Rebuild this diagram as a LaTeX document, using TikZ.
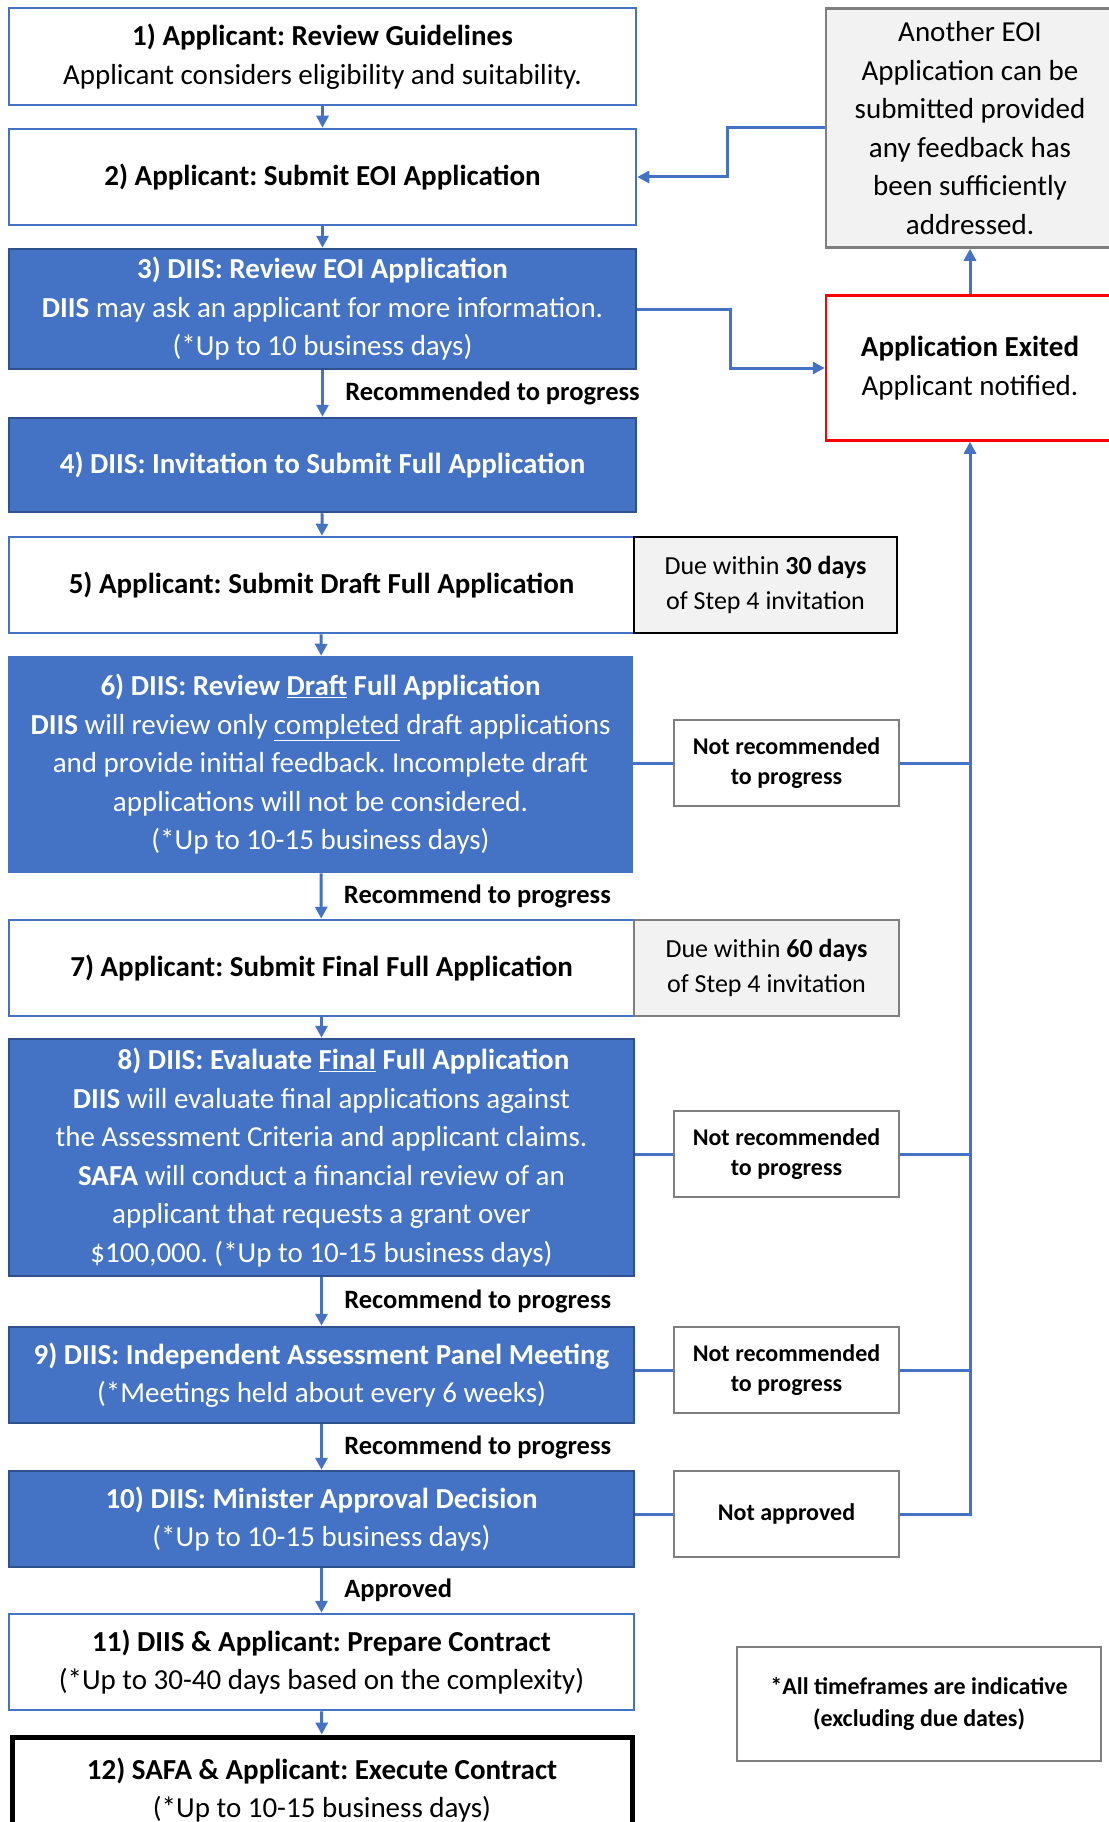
\documentclass[tikz,border=0pt]{standalone}
\usepackage{fontspec}
\setmainfont{Carlito}
\usetikzlibrary{arrows.meta}
\frenchspacing

\definecolor{stepblue}{HTML}{4472C4}
\definecolor{stepedge}{HTML}{2F528F}
\definecolor{notegray}{HTML}{F2F2F2}
\definecolor{edgegray}{HTML}{7F7F7F}
\definecolor{exitred}{HTML}{FF0000}

\tikzset{
  mainfont/.style={font=\fontsize{29}{38.5}\selectfont},
  smallfont/.style={font=\bfseries\fontsize{24}{30}\selectfont},
  applbox/.style={mainfont, draw=stepblue, line width=2.5pt, fill=white, align=center, inner sep=0pt},
  diisbox/.style={mainfont, draw=stepedge, line width=2.5pt, fill=stepblue, text=white, align=center, inner sep=0pt},
  duebox/.style={font=\fontsize{26}{35}\selectfont, draw=black, line width=2.5pt, fill=notegray, align=center, inner sep=0pt},
  nrbox/.style={smallfont, draw=edgegray, line width=2.5pt, fill=white, align=center, inner sep=0pt},
  flow/.style={draw=stepblue, line width=3pt},
  flowlabel/.style={font=\bfseries\fontsize{26.5}{30}\selectfont, anchor=west, xshift=18pt},
}

\begin{document}
\begin{tikzpicture}[x=1pt, y=-1pt, >={Triangle[length=12pt,width=12pt]}]
        \useasboundingbox (0,0) rectangle (1108,1822);

        % Main steps
        \node[applbox, minimum width=627, minimum height=97] (b1) at (322.5,56.5)
          {\textbf{1) Applicant: Review Guidelines}\\Applicant considers eligibility and suitability.};
        \node[applbox, minimum width=627, minimum height=96] (b2) at (322.5,177)
          {\textbf{2) Applicant: Submit EOI Application}};
        \node[diisbox, minimum width=627, minimum height=120] (b3) at (322.5,309)
          {\textbf{3) DIIS: Review EOI Application}\\\textbf{DIIS} may ask an applicant for more information.\\(*Up to 10 business days)};
        \node[diisbox, minimum width=627, minimum height=94] (b4) at (322.5,465)
          {\textbf{4) DIIS: Invitation to Submit Full Application}};
        \node[applbox, minimum width=625, minimum height=96] (b5) at (321.5,585)
          {\textbf{5) Applicant: Submit Draft Full Application}};
        \node[diisbox, draw=stepblue, minimum width=623, minimum height=215] (b6) at (320.5,764.5)
          {\textbf{6) DIIS: Review \underline{Draft} Full Application}\\\textbf{DIIS} will review only \underline{completed} draft applications\\and provide initial feedback. Incomplete draft\\applications will not be considered.\\(*Up to 10-15 business days)};
        \node[applbox, minimum width=625, minimum height=96] (b7) at (321.5,968)
          {\textbf{7) Applicant: Submit Final Full Application}};
        \node[diisbox, minimum width=625, minimum height=237] (b8) at (321.5,1157.5)
          {\hspace*{44pt}\textbf{8) DIIS: Evaluate \underline{Final} Full Application}\\\textbf{DIIS} will evaluate final applications against\\the Assessment Criteria and applicant claims.\\\textbf{SAFA} will conduct a financial review of an\\applicant that requests a grant over\\\$100,000. (*Up to 10-15 business days)};
        \node[diisbox, minimum width=625, minimum height=96] (b9) at (321.5,1375)
          {\textbf{9) DIIS: Independent Assessment Panel Meeting}\\(*Meetings held about every 6 weeks)};
        \node[diisbox, minimum width=625, minimum height=96] (b10) at (321.5,1519)
          {\textbf{10) DIIS: Minister Approval Decision}\\(*Up to 10-15 business days)};
        \node[applbox, minimum width=625, minimum height=96] (b11) at (321.5,1662)
          {\textbf{11) DIIS \& Applicant: Prepare Contract}\\(*Up to 30-40 days based on the complexity)};
        \node[applbox, draw=black, line width=5pt, minimum width=620, minimum height=106] (b12) at (322,1790)
          {\textbf{12) SAFA \& Applicant: Execute Contract}\\(*Up to 10-15 business days)};

        % Due dates
        \node[duebox, minimum width=263, minimum height=96] (due1) at (765.5,585)
          {Due within \textbf{30 days}\\of Step 4 invitation};
        \node[duebox, draw=edgegray, minimum width=265, minimum height=96] (due2) at (766.5,968)
          {Due within \textbf{60 days}\\of Step 4 invitation};

        % Side outcomes
        \node[nrbox, minimum width=225, minimum height=86] (nr1) at (786.5,763) {Not recommended\\to progress};
        \node[nrbox, minimum width=225, minimum height=86] (nr2) at (786.5,1154) {Not recommended\\to progress};
        \node[nrbox, minimum width=225, minimum height=86] (nr3) at (786.5,1370) {Not recommended\\to progress};
        \node[nrbox, minimum width=225, minimum height=86] (na) at (786.5,1514) {Not approved};

        % Exit and resubmission
        \node[applbox, draw=exitred, minimum width=288, minimum height=145] (exit) at (970,368)
          {\textbf{Application Exited}\\Applicant notified.};
        \node[applbox, draw=edgegray, fill=notegray, minimum width=288, minimum height=239] (eoi) at (970,128)
          {Another EOI\\Application can be\\submitted provided\\any feedback has\\been sufficiently\\addressed.};

        % Footnote
        \node[nrbox, font=\bfseries\fontsize{24}{32}\selectfont, minimum width=364, minimum height=114] (note) at (919,1704)
          {*All timeframes are indicative\\(excluding due dates)};

        % Main flow
        \draw[flow,->] (b1) -- (b2);
        \draw[flow,->] (b2) -- (b3);
        \draw[flow,->] (b3) -- (b4) node[midway, flowlabel] {Recommended to progress};
        \draw[flow,->] (b4) -- (b5);
        \draw[flow,->] (b5) -- (b6);
        \draw[flow,->] (b6) -- (b7) node[midway, flowlabel] {Recommend to progress};
        \draw[flow,->] (b7) -- (b8);
        \draw[flow,->] (b8) -- (b9) node[midway, flowlabel] {Recommend to progress};
        \draw[flow,->] (b9) -- (b10) node[midway, flowlabel] {Recommend to progress};
        \draw[flow,->] (b10) -- (b11) node[midway, flowlabel] {Approved};
        \draw[flow,->] (b11) -- (b12);

        % Rejections
        \draw[flow] (b6.east |- nr1) -- (nr1.west);
        \draw[flow] (b8.east |- nr2) -- (nr2.west);
        \draw[flow] (b9.east |- nr3) -- (nr3.west);
        \draw[flow] (b10.east |- na) -- (na.west);
        \draw[flow] (nr1.east) -- (nr1.east -| exit.south);
        \draw[flow] (nr2.east) -- (nr2.east -| exit.south);
        \draw[flow] (nr3.east) -- (nr3.east -| exit.south);
        \draw[flow,->] (na.east) -| (exit.south);

        % Exit loop
        \draw[flow,->] (b3.east) -- ++(93,0) |- (exit.west);
        \draw[flow,->] (exit) -- (eoi);
        \draw[flow,->] (eoi.west) -- ++(-97,0) |- (b2.east);
    \end{tikzpicture}
\end{document}
